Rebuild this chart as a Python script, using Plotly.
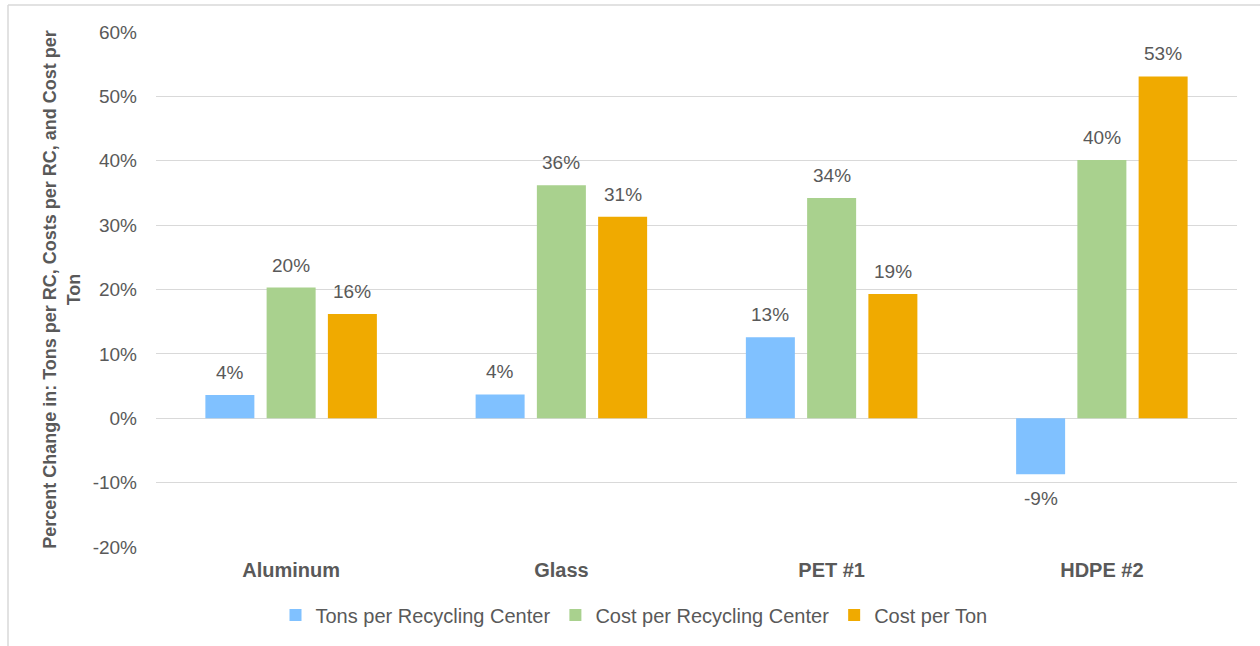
import plotly.graph_objects as go

categories = ["Aluminum", "Glass", "PET #1", "HDPE #2"]
tons_per_rc = [3.6, 3.7, 12.6, -8.7]
cost_per_rc = [20.3, 36.2, 34.2, 40.1]
cost_per_ton = [16.2, 31.3, 19.3, 53.1]

series = [
    ("Tons per Recycling Center", tons_per_rc, "#80C1FF"),
    ("Cost per Recycling Center", cost_per_rc, "#A9D18E"),
    ("Cost per Ton", cost_per_ton, "#F0AA00"),
]

y_ticks = [-20, -10, 0, 10, 20, 30, 40, 50, 60]
y_tick_text = [f"{t}%" for t in y_ticks]

GREY = "#595959"
FONT = "Liberation Sans, Arial, sans-serif"

# plot-area geometry in pixels
W, H = 1260, 646
M_L, M_R, M_T, M_B = 156, 23, 32, 99
PLOT_W = W - M_L - M_R
PLOT_H = H - M_T - M_B
BARGAP, GROUPGAP = 0.32, 0.2
slot_px = PLOT_W / len(categories) * (1 - BARGAP) / len(series)

fig = go.Figure()
annotations = []
for i, (name, vals, color) in enumerate(series):
    fig.add_trace(go.Bar(
        name=name,
        x=categories,
        y=vals,
        marker=dict(color=color, line=dict(width=0)),
    ))
    # value labels sit a little away from the bar end
    for cat, v in zip(categories, vals):
        annotations.append(dict(
            x=cat, y=v, xref="x", yref="y",
            text=f"{round(v)}%",
            showarrow=False,
            xshift=(i - 1) * slot_px,
            yshift=10 if v >= 0 else -12,
            yanchor="bottom" if v >= 0 else "top",
            font=dict(size=19, color=GREY, family=FONT),
        ))

border_x = (8 - M_L) / PLOT_W
border_y = 1 - (5 - M_T) / PLOT_H

fig.update_layout(
    width=W,
    height=H,
    margin=dict(l=M_L, r=M_R, t=M_T, b=M_B, autoexpand=False),
    paper_bgcolor="white",
    plot_bgcolor="white",
    barmode="group",
    bargap=BARGAP,
    bargroupgap=GROUPGAP,
    font=dict(family=FONT, color=GREY),
    showlegend=True,
    legend=dict(
        orientation="h",
        x=(634 - M_L) / PLOT_W, xanchor="center",
        y=1 - (615 - M_T) / PLOT_H, yanchor="middle",
        font=dict(size=20, color=GREY),
        traceorder="normal",
    ),
    xaxis=dict(
        showline=False,
        showgrid=False,
        ticks="",
        ticklabelstandoff=9,
        tickfont=dict(size=20, color=GREY, family=FONT, weight="bold"),
    ),
    yaxis=dict(
        range=[-20, 60],
        tickvals=y_ticks,
        ticktext=y_tick_text,
        showgrid=True,
        gridcolor="#D9D9D9",
        gridwidth=1,
        zeroline=True,
        zerolinecolor="#D9D9D9",
        zerolinewidth=1,
        showline=False,
        ticks="",
        ticklabelstandoff=18,
        tickfont=dict(size=19, color=GREY),
        title=dict(
            text="Percent Change in: Tons per RC, Costs per RC, and Cost per<br>Ton",
            font=dict(size=18, color=GREY, family=FONT, weight="bold"),
            standoff=7,
        ),
    ),
    annotations=annotations,
    shapes=[
        dict(type="line", xref="paper", yref="paper",
             x0=border_x, x1=border_x, y0=border_y, y1=-0.3,
             line=dict(color="#D9D9D9", width=1.5)),
        dict(type="line", xref="paper", yref="paper",
             x0=border_x, x1=1.1, y0=border_y, y1=border_y,
             line=dict(color="#D9D9D9", width=1.5)),
    ],
)

fig.write_html("out.html")
